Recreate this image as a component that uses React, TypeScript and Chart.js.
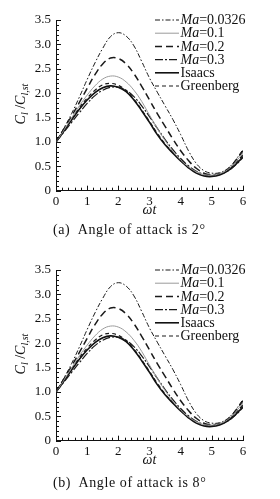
import React, { useEffect, useRef } from 'react';
import { Chart, registerables } from 'chart.js';

Chart.register(...registerables);

// ωt sample positions
const T = [0, 0.25, 0.5, 0.75, 1, 1.25, 1.5, 1.75, 2, 2.25, 2.5, 2.75, 3, 3.25, 3.5, 3.75, 4, 4.25, 4.5, 4.75, 5, 5.25, 5.5, 5.75, 6];

// C_l / C_l,st series
const MA_0326 = [1.0, 1.28, 1.58, 1.92, 2.28, 2.62, 2.92, 3.16, 3.24, 3.17, 2.97, 2.65, 2.31, 2.02, 1.74, 1.46, 1.15, 0.82, 0.56, 0.41, 0.36, 0.37, 0.45, 0.62, 0.85];
const MA_01 = [1.0, 1.24, 1.49, 1.74, 1.96, 2.15, 2.29, 2.35, 2.33, 2.23, 2.06, 1.83, 1.55, 1.28, 1.03, 0.81, 0.63, 0.49, 0.39, 0.33, 0.32, 0.35, 0.43, 0.58, 0.78];
const MA_02 = [1.0, 1.26, 1.53, 1.81, 2.1, 2.38, 2.6, 2.72, 2.71, 2.6, 2.4, 2.14, 1.86, 1.58, 1.32, 1.06, 0.82, 0.62, 0.46, 0.36, 0.33, 0.35, 0.43, 0.6, 0.82];
const MA_03 = [1.0, 1.2, 1.4, 1.6, 1.79, 1.95, 2.06, 2.12, 2.12, 2.06, 1.93, 1.74, 1.52, 1.28, 1.05, 0.84, 0.66, 0.51, 0.4, 0.34, 0.32, 0.34, 0.4, 0.52, 0.68];
const ISAACS = [1.0, 1.22, 1.45, 1.67, 1.86, 2.01, 2.11, 2.15, 2.12, 2.03, 1.86, 1.64, 1.4, 1.15, 0.94, 0.77, 0.61, 0.47, 0.36, 0.3, 0.29, 0.32, 0.4, 0.53, 0.7];
const GREENBERG = [1.0, 1.23, 1.47, 1.7, 1.9, 2.06, 2.17, 2.2, 2.16, 2.05, 1.88, 1.66, 1.42, 1.18, 0.96, 0.78, 0.62, 0.48, 0.38, 0.32, 0.31, 0.34, 0.42, 0.56, 0.74];

const SERIES = [MA_0326, MA_01, MA_02, MA_03, ISAACS, GREENBERG];
const LABEL_ITALIC = ['Ma', 'Ma', 'Ma', 'Ma', '', ''];
const LABEL_REST = ['=0.0326', '=0.1', '=0.2', '=0.3', 'Isaacs', 'Greenberg'];

const X_MIN = 0;
const X_MAX = 6;
const Y_MIN = 0;
const Y_MAX = 3.5;

const CAPTIONS = ['(a)  Angle of attack is 2°', '(b)  Angle of attack is 8°'];

const SERIF = "'Liberation Serif', 'Times New Roman', serif";

const STYLES = [
  { color: '#1a1a1a', width: 1, dash: [5, 2, 1.5, 2] },
  { color: '#9a9a9a', width: 1, dash: [] as number[] },
  { color: '#1a1a1a', width: 1.5, dash: [7, 4] },
  { color: '#1a1a1a', width: 1.2, dash: [8, 2, 2, 2] },
  { color: '#111111', width: 1.6, dash: [] as number[] },
  { color: '#1a1a1a', width: 1.2, dash: [4, 3] },
];

const deco = {
  id: 'deco',
  afterDraw(chart: any) {
    const ctx = chart.ctx as CanvasRenderingContext2D;
    const xs = chart.scales.x;
    const ys = chart.scales.y;
    const area = chart.chartArea;
    ctx.save();
    // inward ticks
    ctx.strokeStyle = '#111';
    ctx.lineWidth = 1;
    ctx.setLineDash([]);
    ctx.beginPath();
    for (let k = 0; k <= 30; k++) {
      const px = Math.round(xs.getPixelForValue(k * 0.2)) + 0.5;
      const len = k % 5 === 0 ? 5 : 3;
      ctx.moveTo(px, area.bottom);
      ctx.lineTo(px, area.bottom - len);
    }
    for (let k = 0; k <= 35; k++) {
      const py = Math.round(ys.getPixelForValue(k * 0.1)) + 0.5;
      const len = k % 5 === 0 ? 5 : 3;
      ctx.moveTo(area.left, py);
      ctx.lineTo(area.left + len, py);
    }
    ctx.stroke();

    // legend
    const lx0 = 155;
    const lx1 = 179;
    chart.data.datasets.forEach((ds: any, i: number) => {
      const y = 20 + i * 13.2;
      ctx.strokeStyle = ds.borderColor;
      ctx.lineWidth = ds.borderWidth;
      ctx.setLineDash(ds.borderDash || []);
      ctx.beginPath();
      ctx.moveTo(lx0, y);
      ctx.lineTo(lx1, y);
      ctx.stroke();
      ctx.setLineDash([]);
      ctx.fillStyle = '#111';
      ctx.textBaseline = 'middle';
      ctx.textAlign = 'left';
      let tx = lx1 + 1.5;
      if (LABEL_ITALIC[i]) {
        ctx.font = `italic 14px ${SERIF}`;
        ctx.fillText(LABEL_ITALIC[i], tx, y + 0.5);
        tx += ctx.measureText(LABEL_ITALIC[i]).width;
      }
      ctx.font = `14px ${SERIF}`;
      ctx.fillText(LABEL_REST[i], tx, y + 0.5);
    });

    // x title
    ctx.fillStyle = '#111';
    ctx.font = `italic 14px ${SERIF}`;
    ctx.textAlign = 'center';
    ctx.textBaseline = 'middle';
    ctx.fillText('ωt', (area.left + area.right) / 2, area.bottom + 19.5);

    // y title C_l / C_l,st
    const parts = [
      { t: 'C', f: `italic 14px ${SERIF}`, dy: 0 },
      { t: 'l', f: `italic 10px ${SERIF}`, dy: 3 },
      { t: ' /', f: `14px ${SERIF}`, dy: 0 },
      { t: 'C', f: `italic 14px ${SERIF}`, dy: 0 },
      { t: 'l,st', f: `italic 10px ${SERIF}`, dy: 3 },
    ];
    let total = 0;
    parts.forEach((p) => {
      ctx.font = p.f;
      total += ctx.measureText(p.t).width;
    });
    ctx.translate(20, 104);
    ctx.rotate(-Math.PI / 2);
    ctx.textAlign = 'left';
    ctx.textBaseline = 'alphabetic';
    let x = -total / 2;
    parts.forEach((p) => {
      ctx.font = p.f;
      ctx.fillText(p.t, x, 5 + p.dy);
      x += ctx.measureText(p.t).width;
    });
    ctx.restore();
  },
};

function Panel({ top, caption, captionTop }: { top: number; caption: string; captionTop: number }) {
  const ref = useRef<HTMLCanvasElement>(null);
  useEffect(() => {
    if (!ref.current) return;
    const chart = new Chart(ref.current, {
      type: 'line',
      data: {
        datasets: SERIES.map((s, i) => ({
          label: LABEL_ITALIC[i] + LABEL_REST[i],
          data: T.map((t, j) => ({ x: t, y: s[j] })),
          borderColor: STYLES[i].color,
          borderWidth: STYLES[i].width,
          borderDash: STYLES[i].dash,
          pointRadius: 0,
          tension: 0.4,
          fill: false,
        })),
      },
      options: {
        animation: false,
        responsive: false,
        devicePixelRatio: 1,
        layout: { padding: { left: 0, top: 20, right: 37, bottom: 39.3 } },
        plugins: { legend: { display: false }, tooltip: { enabled: false } },
        scales: {
          x: {
            type: 'linear',
            min: X_MIN,
            max: X_MAX,
            ticks: {
              stepSize: 1,
              padding: 3,
              color: '#111',
              maxRotation: 0,
              autoSkip: false,
              font: { family: SERIF, size: 13 },
            },
            grid: { color: 'rgba(0,0,0,0)', drawTicks: false },
            border: { color: '#111', width: 1 },
            afterFit: (s: any) => {
              s.height = 20;
            },
          },
          y: {
            type: 'linear',
            min: Y_MIN,
            max: Y_MAX,
            ticks: {
              stepSize: 0.5,
              padding: 5,
              color: '#111',
              autoSkip: false,
              font: { family: SERIF, size: 13 },
              callback: (v: any) => (Number(v) === 0 ? '0' : Number(v).toFixed(1)),
            },
            grid: { color: 'rgba(0,0,0,0)', drawTicks: false },
            border: { color: '#111', width: 1 },
            afterFit: (s: any) => {
              s.width = 56;
            },
          },
        },
      } as any,
      plugins: [deco],
    });
    return () => chart.destroy();
  }, []);
  return (
    <div style={{ position: 'absolute', left: 0, top, width: 280, height: 250 }}>
      <canvas ref={ref} width={280} height={250} style={{ display: 'block' }} />
      <div
        style={{
          position: 'absolute',
          left: 53,
          top: captionTop - 9,
          height: 18,
          lineHeight: '18px',
          fontFamily: SERIF,
          fontSize: 14,
          letterSpacing: 0.6,
          whiteSpace: 'pre',
          color: '#111',
        }}
      >
        {caption}
      </div>
    </div>
  );
}

export default function App() {
  return (
    <div style={{ position: 'absolute', left: 0, top: 0, width: 280, height: 499, background: '#fff' }}>
      <Panel top={0} caption={CAPTIONS[0]} captionTop={230} />
      <Panel top={250} caption={CAPTIONS[1]} captionTop={233} />
    </div>
  );
}
